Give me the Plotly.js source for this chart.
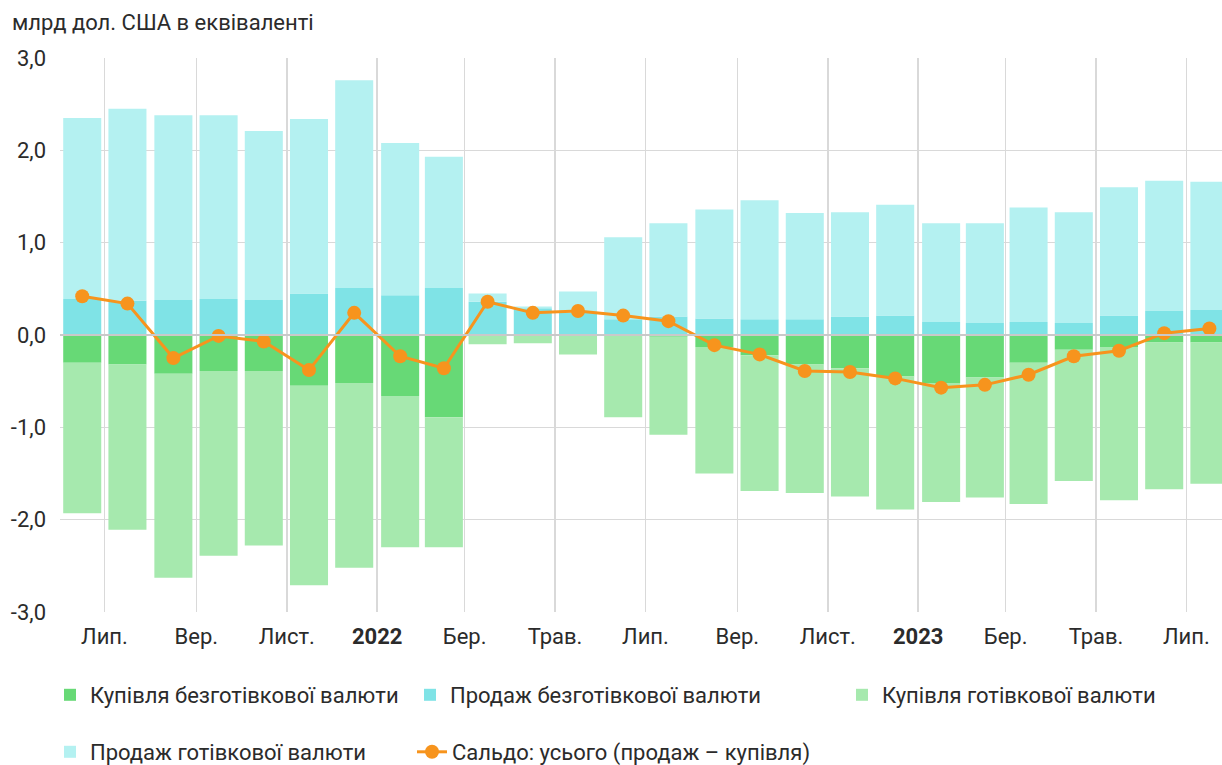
<!DOCTYPE html>
<html>
<head>
<meta charset="utf-8">
<script src="https://cdn.plot.ly/plotly-3.0.1.min.js"></script>
<style>
  html, body { margin: 0; padding: 0; background: #ffffff; }
  #chart { width: 1222px; height: 765px; }
</style>
</head>
<body>
<div id="chart"></div>
<script>
// ---- Data (billion USD equivalent), monthly Jun 2021 – Jul 2023 ----
const months = [
  "2021-06-01","2021-07-01","2021-08-01","2021-09-01","2021-10-01","2021-11-01","2021-12-01",
  "2022-01-01","2022-02-01","2022-03-01","2022-04-01","2022-05-01","2022-06-01","2022-07-01",
  "2022-08-01","2022-09-01","2022-10-01","2022-11-01","2022-12-01",
  "2023-01-01","2023-02-01","2023-03-01","2023-04-01","2023-05-01","2023-06-01","2023-07-01"
];
const cashlessPurchase = [-0.30,-0.32,-0.42,-0.39,-0.39,-0.55,-0.52,-0.66,-0.89,-0.01,-0.01,-0.01,-0.01,-0.02,-0.13,-0.22,-0.32,-0.36,-0.45,-0.52,-0.46,-0.30,-0.16,-0.13,-0.08,-0.08];
const cashlessSale     = [0.39,0.37,0.38,0.39,0.38,0.45,0.51,0.43,0.51,0.36,0.29,0.24,0.17,0.20,0.18,0.17,0.17,0.20,0.21,0.14,0.13,0.14,0.13,0.21,0.26,0.27];
const cashPurchase     = [-1.63,-1.79,-2.21,-2.00,-1.89,-2.16,-2.00,-1.64,-1.41,-0.09,-0.08,-0.20,-0.88,-1.06,-1.37,-1.47,-1.39,-1.39,-1.44,-1.29,-1.30,-1.53,-1.42,-1.66,-1.59,-1.53];
const cashSale         = [1.96,2.08,2.00,1.99,1.83,1.89,2.25,1.65,1.42,0.09,0.02,0.23,0.89,1.01,1.18,1.29,1.15,1.13,1.20,1.07,1.08,1.24,1.20,1.39,1.41,1.39];
const balance          = [0.42,0.34,-0.25,-0.01,-0.07,-0.38,0.24,-0.23,-0.36,0.36,0.24,0.26,0.21,0.15,-0.11,-0.21,-0.39,-0.40,-0.47,-0.57,-0.54,-0.43,-0.23,-0.17,0.02,0.07];

const seriesNames = [
  "Купівля безготівкової валюти",
  "Продаж безготівкової валюти",
  "Купівля готівкової валюти",
  "Продаж готівкової валюти",
  "Сальдо: усього (продаж – купівля)"
];

const xTickVals = ["2021-07-01","2021-09-01","2021-11-01","2022-01-01","2022-03-01","2022-05-01",
                   "2022-07-01","2022-09-01","2022-11-01","2023-01-01","2023-03-01","2023-05-01","2023-07-01"];
const xTickText = ["Лип.","Вер.","Лист.","<b>2022</b>","Бер.","Трав.","Лип.","Вер.","Лист.","<b>2023</b>","Бер.","Трав.","Лип."];
const yTickVals = [-3,-2,-1,0,1,2,3];
const yTickText = ["-3,0","-2,0","-1,0","0,0","1,0","2,0","3,0"];

const titleText = "млрд дол. США в еквіваленті";

// ---- Styles ----
const colors = ["#67d976", "#7fe3e6", "#a6e9ae", "#b4f1f1", "#f7941d"];
const FONT = "Roboto, 'Noto Sans', Arial, sans-serif";
const TXT = "#2b2b2b";
const FS = 22;

function barTrace(y, i, legendId) {
  return {
    type: "bar",
    x: months,
    y: y,
    xperiod: "M1",
    xperiodalignment: "middle",
    name: seriesNames[i],
    marker: { color: colors[i], line: { width: 0 } },
    legend: legendId,
    hoverinfo: "skip"
  };
}

const traces = [
  barTrace(cashlessPurchase, 0, "legend"),
  barTrace(cashlessSale, 1, "legend2"),
  barTrace(cashPurchase, 2, "legend3"),
  barTrace(cashSale, 3, "legend4"),
  {
    type: "scatter",
    mode: "lines+markers",
    x: months,
    y: balance,
    xperiod: "M1",
    xperiodalignment: "middle",
    name: seriesNames[4],
    line: { color: colors[4], width: 3 },
    marker: { color: colors[4], size: 14 },
    legend: "legend5",
    hoverinfo: "skip"
  }
];

const L = 60, R = 0, T = 58, B = 153, W = 1222, H = 765;
const pw = W - L - R, ph = H - T - B;
function px2x(p) { return (p - L) / pw; }
function py2y(p) { return (H - B - p) / ph; }

function legendAt(xpx, ypx) {
  return {
    x: px2x(xpx), y: py2y(ypx), xanchor: "left", yanchor: "middle",
    orientation: "h", bgcolor: "rgba(0,0,0,0)", borderwidth: 0,
    font: { family: FONT, size: FS, color: TXT }
  };
}

const layout = {
  width: W, height: H,
  margin: { l: L, r: R, t: T, b: B, pad: 0, autoexpand: false },
  paper_bgcolor: "#ffffff",
  plot_bgcolor: "#ffffff",
  font: { family: FONT, size: FS, color: TXT },
  barmode: "relative",
  bargap: 0.13,
  title: {
    text: titleText,
    x: 12 / W, xref: "container", xanchor: "left",
    y: 1 - 22 / H, yref: "container", yanchor: "middle",
    font: { family: FONT, size: FS, color: TXT }
  },
  xaxis: {
    type: "date",
    range: ["2021-06-01", "2023-07-25"],
    tickmode: "array",
    tickvals: xTickVals,
    ticktext: xTickText,
    showgrid: true,
    gridcolor: "#d9d9d9",
    gridwidth: 1.5,
    zeroline: false,
    showline: false,
    ticks: "",
    ticklabelstandoff: 9,
    tickfont: { family: FONT, size: FS, color: TXT },
    fixedrange: true
  },
  yaxis: {
    range: [-3, 3],
    tickmode: "array",
    tickvals: yTickVals,
    ticktext: yTickText,
    showgrid: true,
    gridcolor: "#d9d9d9",
    gridwidth: 1.5,
    zeroline: true,
    zerolinecolor: "#c9c9c9",
    zerolinewidth: 1.5,
    zerolinelayer: "above traces",
    showline: false,
    ticks: "",
    ticklabelstandoff: 13,
    tickfont: { family: FONT, size: FS, color: TXT },
    fixedrange: true
  },
  showlegend: true,
  legend:  legendAt(50, 695),
  legend2: legendAt(410, 695),
  legend3: legendAt(842, 695),
  legend4: legendAt(50, 752),
  legend5: legendAt(412, 752)
};

Plotly.newPlot("chart", traces, layout, { displayModeBar: false, staticPlot: true });
</script>
</body>
</html>
